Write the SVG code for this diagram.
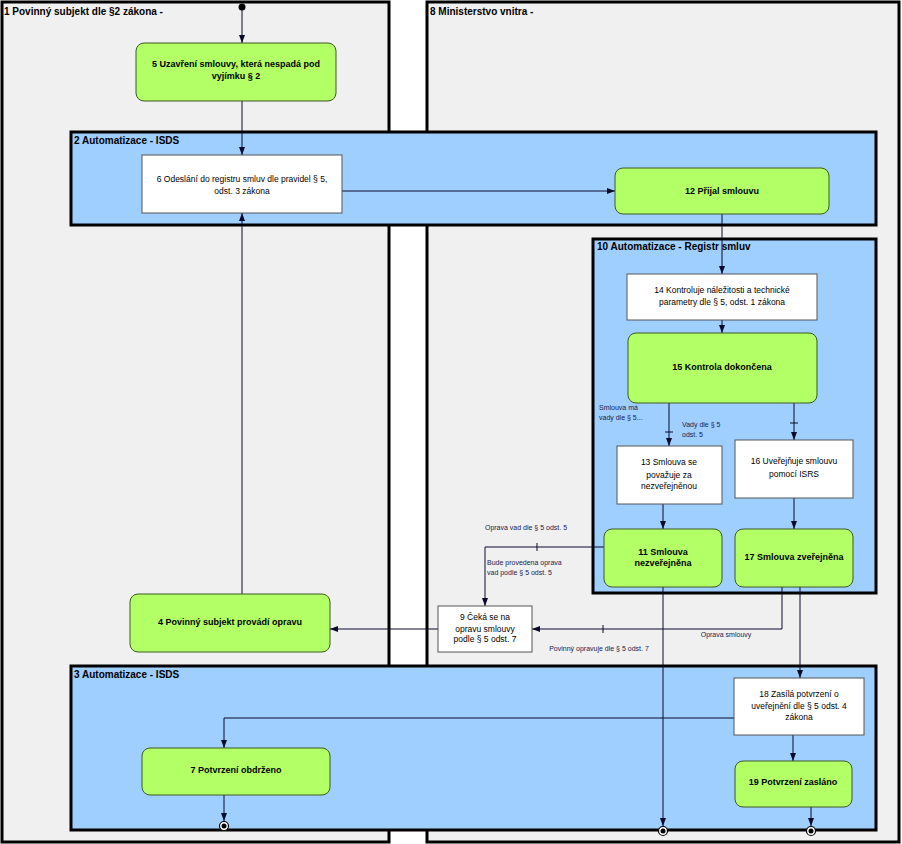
<svg xmlns="http://www.w3.org/2000/svg" width="902" height="844" viewBox="0 0 902 844">
<defs>
<marker id="arr" viewBox="0 0 8 8" refX="8" refY="4" markerWidth="8" markerHeight="8" markerUnits="userSpaceOnUse" orient="auto">
<path d="M0,1 L8,4 L0,7 z" fill="#0a0a2a"/>
</marker>
</defs>
<style>
.pool{fill:#f0f0f0;stroke:#000;stroke-width:3}
.lane{fill:#9fcfff;stroke:#000;stroke-width:3}
.ttl{font-family:"Liberation Sans",Arial,sans-serif;font-weight:bold;font-size:10px;fill:#000}
.g{fill:#b3ff66;stroke:#3c5a22;stroke-width:1}
.w{fill:#fff;stroke:#555;stroke-width:1}
.bt{font-family:"Liberation Sans",Arial,sans-serif;font-weight:bold;font-size:9px;fill:#000;text-anchor:middle}
.nt{font-family:"Liberation Sans",Arial,sans-serif;font-size:8.5px;fill:#000;text-anchor:middle}
.el{font-family:"Liberation Sans",Arial,sans-serif;font-size:7px;fill:#1a1a4d}
.c{fill:none;stroke:#0a0a2a;stroke-width:1}
.ca{fill:none;stroke:#0a0a2a;stroke-width:1;marker-end:url(#arr)}
</style>
<rect width="902" height="844" fill="#fff"/>
<g id="pool1"><rect class="pool" x="2" y="2" width="387" height="840"/><text class="ttl" x="4" y="15">1 Povinný subjekt dle §2 zákona -</text></g>
<g id="pool8"><rect class="pool" x="427" y="2" width="472" height="840"/><text class="ttl" x="430" y="15">8 Ministerstvo vnitra -</text></g>
<g id="lane2"><rect class="lane" x="71" y="132" width="805" height="93"/><text class="ttl" x="74" y="144">2 Automatizace - ISDS</text></g>
<g id="lane10"><rect class="lane" x="593" y="239" width="283" height="354"/><text class="ttl" x="597" y="250">10 Automatizace - Registr smluv</text></g>
<g id="lane3"><rect class="lane" x="71" y="666" width="805" height="164"/><text class="ttl" x="74" y="678">3 Automatizace - ISDS</text></g>

<g id="connectors">
<circle cx="242" cy="7" r="3.5" fill="#000"/>
<line class="ca" x1="242" y1="7" x2="242" y2="43"/>
<line class="ca" x1="242" y1="101" x2="242" y2="155"/>
<line class="ca" x1="342" y1="191" x2="615" y2="191"/>
<line class="ca" x1="722" y1="214" x2="722" y2="274"/>
<line class="ca" x1="722" y1="320" x2="722" y2="333"/>
<line class="ca" x1="669" y1="403" x2="669" y2="446"/>
<line class="c" x1="665" y1="432" x2="673" y2="432"/>
<line class="ca" x1="794" y1="403" x2="794" y2="440"/>
<line class="c" x1="790" y1="423" x2="798" y2="423"/>
<line class="ca" x1="663" y1="504" x2="663" y2="529"/>
<line class="ca" x1="794" y1="498" x2="794" y2="529"/>
<polyline class="ca" points="604,547 485,547 485,606"/>
<line class="c" x1="537" y1="543" x2="537" y2="551"/>
<polyline class="ca" points="782,587 782,629 532,629"/>
<line class="c" x1="603" y1="625" x2="603" y2="633"/>
<line class="ca" x1="438" y1="629" x2="330" y2="629"/>
<line class="ca" x1="242" y1="594" x2="242" y2="213"/>
<line class="ca" x1="800" y1="587" x2="800" y2="678"/>
<polyline class="ca" points="734,718 224,718 224,748"/>
<line class="ca" x1="224" y1="795" x2="224" y2="821"/>
<line class="ca" x1="793" y1="735" x2="793" y2="761"/>
<line class="ca" x1="811" y1="807" x2="811" y2="826"/>
<line class="ca" x1="663" y1="587" x2="663" y2="826"/>
<g fill="#fff" stroke="#000" stroke-width="1.2">
<circle cx="224" cy="826" r="4.5"/><circle cx="663" cy="831" r="4.5"/><circle cx="811" cy="831" r="4.5"/>
</g>
<g fill="#000"><circle cx="224" cy="826" r="2.5"/><circle cx="663" cy="831" r="2.5"/><circle cx="811" cy="831" r="2.5"/></g>
<text class="el" x="599" y="410" font-size="7.5">Smlouva má</text>
<text class="el" x="599" y="420" font-size="7.5">vady dle § 5...</text>
<text class="el" x="682" y="427">Vady dle § 5</text>
<text class="el" x="682" y="437">odst. 5</text>
<text class="el" x="526" y="530" text-anchor="middle">Oprava vad dle § 5 odst. 5</text>
<text class="el" x="487" y="565">Bude provedena oprava</text>
<text class="el" x="487" y="575">vad podle § 5 odst. 5</text>
<text class="el" x="726" y="637" text-anchor="middle">Oprava smlouvy</text>
<text class="el" x="599" y="651" text-anchor="middle">Povinný opravuje dle § 5 odst. 7</text>
</g>

<g id="n5"><rect class="g" x="136" y="43" width="200" height="58" rx="8"/><text class="bt" x="236" y="67">5 Uzavření smlouvy, která nespadá pod</text><text class="bt" x="236" y="79">vyjímku § 2</text></g>
<g id="n6"><rect class="w" x="142" y="155" width="200" height="58"/><text class="nt" x="242" y="182">6 Odeslání do registru smluv dle pravidel § 5,</text><text class="nt" x="242" y="194">odst. 3 zákona</text></g>
<g id="n12"><rect class="g" x="615" y="168" width="214" height="46" rx="8"/><text class="bt" x="722" y="194">12 Přijal smlouvu</text></g>
<g id="n14"><rect class="w" x="627" y="274" width="190" height="46"/><text class="nt" x="722" y="293">14 Kontroluje náležitosti a technické</text><text class="nt" x="722" y="305">parametry dle § 5, odst. 1 zákona</text></g>
<g id="n15"><rect class="g" x="628" y="333" width="189" height="70" rx="8"/><text class="bt" x="722" y="370">15 Kontrola dokončena</text></g>
<g id="n13"><rect class="w" x="617" y="446" width="105" height="58"/><text class="nt" x="669" y="465">13 Smlouva se</text><text class="nt" x="669" y="478">považuje za</text><text class="nt" x="669" y="489">nezveřejněnou</text></g>
<g id="n16"><rect class="w" x="735" y="440" width="118" height="58"/><text class="nt" x="794" y="464">16 Uveřejňuje smlouvu</text><text class="nt" x="794" y="477">pomocí ISRS</text></g>
<g id="n11"><rect class="g" x="604" y="529" width="118" height="58" rx="8"/><text class="bt" x="663" y="555">11 Smlouva</text><text class="bt" x="663" y="566">nezveřejněna</text></g>
<g id="n17"><rect class="g" x="735" y="529" width="118" height="58" rx="8"/><text class="bt" x="794" y="560">17 Smlouva zveřejněna</text></g>
<g id="n9"><rect class="w" x="438" y="606" width="94" height="46"/><text class="nt" x="485" y="620">9 Čeká se na</text><text class="nt" x="485" y="632">opravu smlouvy</text><text class="nt" x="485" y="642">podle § 5 odst. 7</text></g>
<g id="n4"><rect class="g" x="130" y="594" width="200" height="58" rx="8"/><text class="bt" x="230" y="625">4 Povinný subjekt provádí opravu</text></g>
<g id="n18"><rect class="w" x="734" y="678" width="130" height="57"/><text class="nt" x="799" y="697">18 Zasílá potvrzení o</text><text class="nt" x="799" y="709">uveřejnění dle § 5 odst. 4</text><text class="nt" x="799" y="720">zákona</text></g>
<g id="n7"><rect class="g" x="142" y="748" width="188" height="47" rx="8"/><text class="bt" x="236" y="773">7  Potvrzení obdrženo</text></g>
<g id="n19"><rect class="g" x="735" y="761" width="117" height="46" rx="8"/><text class="bt" x="793" y="785">19 Potvrzení zasláno</text></g>
</svg>
